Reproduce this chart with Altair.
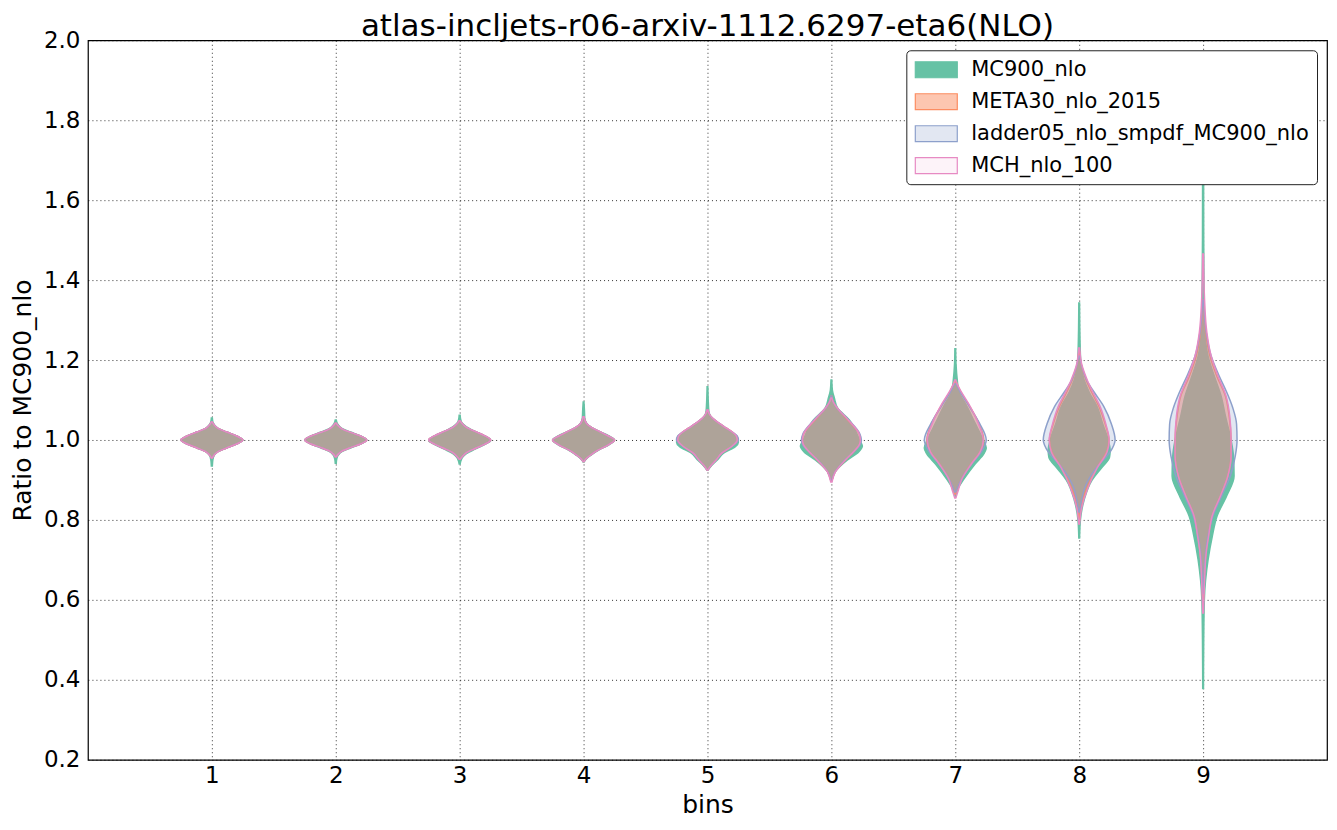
import altair as alt
import pandas as pd

TITLE = "atlas-incljets-r06-arxiv-1112.6297-eta6(NLO)"
SERIES = ["MC900_nlo", "META30_nlo_2015", "ladder05_nlo_smpdf_MC900_nlo", "MCH_nlo_100"]
EDGE_COLORS = ["#66c2a5", "#fc8d62", "#8da0cb", "#e78ac3"]
FILL_COLORS = ["rgba(102,194,165,1)", "rgba(252,141,98,0.5)",
               "rgba(141,160,203,0.25)", "rgba(231,138,195,0.1)"]
BINS = [1, 2, 3, 4, 5, 6, 7, 8, 9]
Y_TICKS = [0.2, 0.4, 0.6, 0.8, 1.0, 1.2, 1.4, 1.6, 1.8, 2.0]

# Violin profiles: per bin, list of (ratio, half-width in bin units)
mc900_profiles = [
    [(0.935, 0.004), (0.95, 0.008), (0.962, 0.02), (0.971, 0.05), (0.98, 0.12), (0.99, 0.2), (1.0, 0.25), (1.01, 0.2), (1.02, 0.12), (1.029, 0.05), (1.038, 0.02), (1.046, 0.008), (1.055, 0.004)],
    [(0.942, 0.004), (0.952, 0.008), (0.962, 0.02), (0.971, 0.05), (0.98, 0.12), (0.99, 0.2), (1.0, 0.25), (1.01, 0.2), (1.02, 0.12), (1.029, 0.05), (1.038, 0.02), (1.045, 0.008), (1.05, 0.004)],
    [(0.94, 0.004), (0.948, 0.01), (0.956, 0.022), (0.966, 0.055), (0.977, 0.125), (0.989, 0.205), (0.998, 0.25), (1.01, 0.2), (1.022, 0.12), (1.034, 0.05), (1.043, 0.018), (1.052, 0.008), (1.062, 0.004)],
    [(0.945, 0.004), (0.952, 0.02), (0.962, 0.06), (0.975, 0.125), (0.988, 0.205), (1.0, 0.25), (1.01, 0.205), (1.021, 0.13), (1.032, 0.06), (1.042, 0.025), (1.055, 0.01), (1.075, 0.007), (1.095, 0.003)],
    [(0.925, 0.004), (0.935, 0.03), (0.95, 0.08), (0.967, 0.13), (0.983, 0.225), (0.995, 0.25), (1.005, 0.235), (1.02, 0.185), (1.03, 0.135), (1.042, 0.08), (1.055, 0.035), (1.07, 0.012), (1.1, 0.006), (1.133, 0.003)],
    [(0.9, 0.003), (0.92, 0.03), (0.95, 0.13), (0.97, 0.22), (0.985, 0.25), (1.0, 0.226), (1.02, 0.2), (1.05, 0.145), (1.08, 0.05), (1.105, 0.024), (1.125, 0.008), (1.15, 0.003)],
    [(0.86, 0.004), (0.88, 0.025), (0.9, 0.065), (0.94, 0.16), (0.965, 0.23), (0.98, 0.25), (1.0, 0.226), (1.042, 0.16), (1.092, 0.08), (1.12, 0.03), (1.15, 0.016), (1.19, 0.006), (1.228, 0.003)],
    [(0.755, 0.003), (0.8, 0.01), (0.85, 0.04), (0.9, 0.105), (0.93, 0.18), (0.957, 0.245), (0.975, 0.25), (1.0, 0.234), (1.04, 0.19), (1.083, 0.145), (1.12, 0.08), (1.15, 0.04), (1.2, 0.012), (1.26, 0.006), (1.343, 0.003)],
    [(0.378, 0.003), (0.5, 0.005), (0.6, 0.01), (0.7, 0.04), (0.76, 0.075), (0.81, 0.113), (0.86, 0.19), (0.91, 0.25), (0.96, 0.245), (1.0, 0.226), (1.06, 0.18), (1.11, 0.145), (1.16, 0.09), (1.21, 0.04), (1.27, 0.015), (1.35, 0.008), (1.5, 0.005), (1.7, 0.004), (1.87, 0.003)],
]

meta30_profiles = [
    [(0.955, 0.004), (0.962, 0.018), (0.971, 0.05), (0.98, 0.12), (0.99, 0.2), (1.0, 0.25), (1.01, 0.2), (1.02, 0.12), (1.029, 0.05), (1.038, 0.018), (1.045, 0.004)],
    [(0.958, 0.004), (0.964, 0.018), (0.972, 0.05), (0.981, 0.12), (0.99, 0.2), (1.0, 0.25), (1.01, 0.2), (1.019, 0.12), (1.028, 0.05), (1.036, 0.018), (1.042, 0.004)],
    [(0.952, 0.004), (0.958, 0.02), (0.967, 0.05), (0.978, 0.12), (0.989, 0.2), (1.0, 0.25), (1.011, 0.2), (1.022, 0.12), (1.033, 0.05), (1.042, 0.018), (1.048, 0.004)],
    [(0.946, 0.004), (0.953, 0.02), (0.963, 0.06), (0.975, 0.12), (0.988, 0.2), (1.0, 0.25), (1.01, 0.2), (1.021, 0.13), (1.032, 0.06), (1.042, 0.022), (1.058, 0.004)],
    [(0.925, 0.004), (0.935, 0.025), (0.95, 0.07), (0.967, 0.115), (0.985, 0.2), (1.0, 0.245), (1.01, 0.235), (1.02, 0.2), (1.03, 0.15), (1.042, 0.093), (1.055, 0.04), (1.065, 0.015), (1.075, 0.004)],
    [(0.9, 0.005), (0.92, 0.03), (0.95, 0.115), (0.97, 0.18), (0.99, 0.23), (1.0, 0.235), (1.015, 0.225), (1.05, 0.13), (1.08, 0.045), (1.1, 0.01), (1.11, 0.003)],
    [(0.865, 0.004), (0.89, 0.03), (0.94, 0.125), (0.97, 0.2), (1.0, 0.23), (1.042, 0.19), (1.092, 0.1), (1.12, 0.045), (1.145, 0.008)],
    [(0.8, 0.003), (0.84, 0.02), (0.88, 0.065), (0.93, 0.14), (0.97, 0.22), (1.0, 0.24), (1.04, 0.21), (1.083, 0.16), (1.12, 0.1), (1.15, 0.055), (1.19, 0.015), (1.22, 0.003)],
    [(0.6, 0.003), (0.7, 0.018), (0.76, 0.042), (0.81, 0.075), (0.86, 0.14), (0.91, 0.2), (0.96, 0.225), (1.0, 0.225), (1.06, 0.21), (1.11, 0.18), (1.16, 0.11), (1.21, 0.055), (1.27, 0.02), (1.35, 0.004)],
]

ladder05_profiles = [
    [(0.955, 0.004), (0.962, 0.018), (0.971, 0.05), (0.98, 0.12), (0.99, 0.2), (1.0, 0.25), (1.01, 0.2), (1.02, 0.12), (1.029, 0.05), (1.038, 0.018), (1.045, 0.004)],
    [(0.958, 0.004), (0.964, 0.018), (0.972, 0.05), (0.981, 0.12), (0.99, 0.2), (1.0, 0.25), (1.01, 0.2), (1.019, 0.12), (1.028, 0.05), (1.036, 0.018), (1.042, 0.004)],
    [(0.952, 0.004), (0.958, 0.02), (0.967, 0.05), (0.978, 0.12), (0.989, 0.2), (1.0, 0.25), (1.011, 0.2), (1.022, 0.12), (1.033, 0.05), (1.042, 0.018), (1.048, 0.004)],
    [(0.946, 0.004), (0.953, 0.02), (0.963, 0.06), (0.975, 0.12), (0.988, 0.2), (1.0, 0.25), (1.01, 0.2), (1.021, 0.13), (1.032, 0.06), (1.042, 0.022), (1.058, 0.004)],
    [(0.925, 0.004), (0.935, 0.025), (0.95, 0.07), (0.967, 0.115), (0.985, 0.2), (1.0, 0.25), (1.01, 0.24), (1.02, 0.2), (1.03, 0.15), (1.042, 0.093), (1.055, 0.04), (1.065, 0.015), (1.075, 0.004)],
    [(0.9, 0.005), (0.92, 0.03), (0.95, 0.11), (0.97, 0.18), (0.99, 0.235), (1.0, 0.242), (1.015, 0.23), (1.05, 0.14), (1.08, 0.045), (1.1, 0.01), (1.11, 0.003)],
    [(0.87, 0.004), (0.89, 0.03), (0.94, 0.13), (0.97, 0.21), (1.0, 0.25), (1.042, 0.195), (1.092, 0.097), (1.12, 0.04), (1.14, 0.008)],
    [(0.82, 0.003), (0.85, 0.02), (0.883, 0.048), (0.933, 0.145), (0.97, 0.25), (1.0, 0.29), (1.04, 0.26), (1.083, 0.2), (1.12, 0.12), (1.15, 0.06), (1.18, 0.025), (1.21, 0.004)],
    [(0.615, 0.003), (0.7, 0.015), (0.76, 0.04), (0.81, 0.08), (0.86, 0.15), (0.91, 0.22), (0.96, 0.26), (1.0, 0.274), (1.04, 0.27), (1.08, 0.24), (1.12, 0.19), (1.16, 0.13), (1.21, 0.065), (1.27, 0.025), (1.35, 0.004)],
]

mch_profiles = [
    [(0.955, 0.004), (0.962, 0.018), (0.971, 0.05), (0.98, 0.12), (0.99, 0.2), (1.0, 0.25), (1.01, 0.2), (1.02, 0.12), (1.029, 0.05), (1.038, 0.018), (1.045, 0.004)],
    [(0.958, 0.004), (0.964, 0.018), (0.972, 0.05), (0.981, 0.12), (0.99, 0.2), (1.0, 0.25), (1.01, 0.2), (1.019, 0.12), (1.028, 0.05), (1.036, 0.018), (1.042, 0.004)],
    [(0.952, 0.004), (0.958, 0.02), (0.967, 0.05), (0.978, 0.12), (0.989, 0.2), (1.0, 0.25), (1.011, 0.2), (1.022, 0.12), (1.033, 0.05), (1.042, 0.018), (1.048, 0.004)],
    [(0.946, 0.004), (0.953, 0.02), (0.963, 0.06), (0.975, 0.12), (0.988, 0.2), (1.0, 0.25), (1.01, 0.2), (1.021, 0.13), (1.032, 0.06), (1.042, 0.022), (1.058, 0.004)],
    [(0.925, 0.004), (0.935, 0.025), (0.95, 0.07), (0.967, 0.115), (0.985, 0.2), (1.0, 0.24), (1.01, 0.233), (1.02, 0.2), (1.03, 0.15), (1.042, 0.093), (1.055, 0.04), (1.065, 0.015), (1.075, 0.004)],
    [(0.895, 0.005), (0.92, 0.032), (0.95, 0.113), (0.97, 0.177), (0.99, 0.228), (1.0, 0.234), (1.015, 0.225), (1.05, 0.137), (1.08, 0.048), (1.095, 0.015), (1.105, 0.004)],
    [(0.855, 0.004), (0.875, 0.025), (0.9, 0.05), (0.94, 0.13), (0.97, 0.2), (1.0, 0.226), (1.042, 0.185), (1.092, 0.105), (1.12, 0.05), (1.14, 0.015), (1.15, 0.004)],
    [(0.79, 0.003), (0.83, 0.02), (0.88, 0.07), (0.93, 0.145), (0.97, 0.225), (1.0, 0.242), (1.04, 0.215), (1.083, 0.17), (1.12, 0.11), (1.15, 0.065), (1.19, 0.02), (1.23, 0.004)],
    [(0.567, 0.003), (0.65, 0.012), (0.715, 0.024), (0.76, 0.045), (0.81, 0.073), (0.86, 0.14), (0.91, 0.2), (0.96, 0.226), (1.0, 0.226), (1.06, 0.215), (1.11, 0.185), (1.16, 0.12), (1.21, 0.065), (1.27, 0.03), (1.35, 0.012), (1.465, 0.003)],
]

ALL_PROFILES = [mc900_profiles, meta30_profiles, ladder05_profiles, mch_profiles]

rows = []
for s, profs in zip(SERIES, ALL_PROFILES):
    for b, prof in zip(BINS, profs):
        for r, w in prof:
            rows.append({"series": s, "bin": b, "ratio": r, "hw": w})
df = pd.DataFrame(rows)

FONT = "DejaVu Sans"

legend = alt.Legend(
    title=None, orient="top-right", offset=10,
    labelFont=FONT, labelFontSize=21, labelColor="black", labelLimit=600, labelOffset=34,
    symbolType="M-1,-0.76H3V0.76H-1Z", symbolSize=441, symbolStrokeWidth=1.2,
    symbolOpacity=1,
    rowPadding=10, padding=8, strokeColor="#222", fillColor="white", cornerRadius=4,
)

fill_scale = alt.Scale(domain=SERIES, range=FILL_COLORS)
edge_scale = alt.Scale(domain=SERIES, range=EDGE_COLORS)


def violin_layer(s):
    return alt.Chart(df).transform_filter(
        alt.datum.series == s
    ).transform_calculate(
        lo="datum.bin - datum.hw", hi="datum.bin + datum.hw"
    ).mark_area(
        orient="horizontal", interpolate="monotone", strokeWidth=1.5,
        opacity=1, fillOpacity=1,
    ).encode(
        x=alt.X("lo:Q", stack=None,
                scale=alt.Scale(domain=[0, 10], nice=False, zero=False),
                axis=alt.Axis(values=BINS, title="bins", format="d")),
        x2="hi:Q",
        y=alt.Y("ratio:Q",
                scale=alt.Scale(domain=[0.2, 2.0], nice=False, zero=False),
                axis=alt.Axis(values=Y_TICKS, format=".1f", title="Ratio to MC900_nlo")),
        detail="bin:N",
        color=alt.Color("series:N", scale=fill_scale, sort=SERIES, legend=legend),
        stroke=alt.Stroke("series:N", scale=edge_scale, sort=SERIES, legend=legend),
    )


layers = [violin_layer(s) for s in SERIES]

chart = alt.layer(*layers).properties(
    width=1240, height=720, background="white",
    padding={"left": 2, "top": 3, "right": 2, "bottom": 2},
    title=alt.TitleParams(TITLE, font=FONT, fontSize=31, fontWeight="normal",
                          color="black", anchor="middle", offset=-14),
).configure_view(
    stroke="black", strokeWidth=1.2
).configure_axis(
    domain=False, ticks=False,
    grid=True, gridColor="black", gridDash=[1, 3], gridWidth=1, gridOpacity=0.8,
    labelFont=FONT, labelFontSize=23, labelColor="black",
    titleFont=FONT, titleFontSize=25, titleFontWeight="normal", titleColor="black",
).configure_axisY(
    titlePadding=8, labelPadding=8
).configure_axisX(
    titlePadding=5, labelPadding=5
)

chart.save("out.html", embed_options={"renderer": "svg", "actions": False})
